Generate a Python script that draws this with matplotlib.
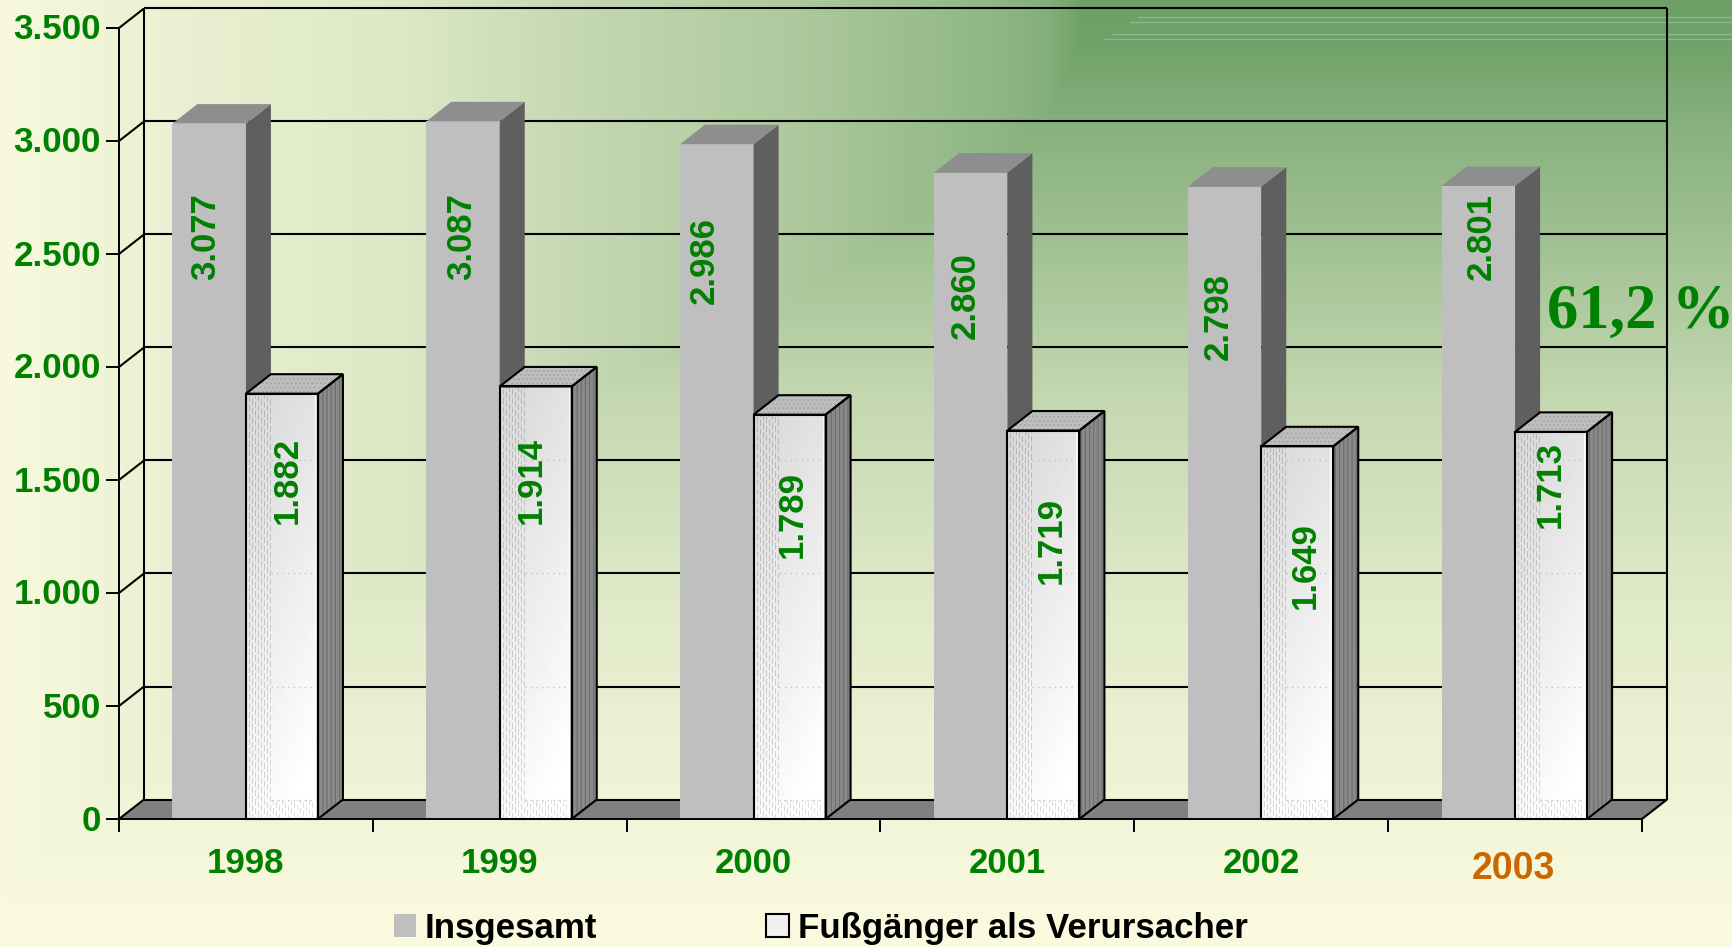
import numpy as np
import matplotlib
matplotlib.use("Agg")
import matplotlib.pyplot as plt
from matplotlib.patches import Polygon, Patch
from matplotlib.transforms import ScaledTranslation

years = ["1998", "1999", "2000", "2001", "2002", "2003"]
insgesamt = [3077, 3087, 2986, 2860, 2798, 2801]
fussgaenger = [1882, 1914, 1789, 1719, 1649, 1713]
y_ticks = [0, 500, 1000, 1500, 2000, 2500, 3000, 3500]
y_tick_labels = ["0", "500", "1.000", "1.500", "2.000", "2.500", "3.000", "3.500"]
value_labels_total = ["3.077", "3.087", "2.986", "2.860", "2.798", "2.801"]
value_labels_foot = ["1.882", "1.914", "1.789", "1.719", "1.649", "1.713"]
series_names = ["Insgesamt", "Fußgänger als Verursacher"]
share_label = "61,2 %"

W, H = 1733, 947
GREEN = "#008000"
ORANGE = "#CC6600"
plt.rcParams["font.family"] = ["Liberation Sans", "DejaVu Sans"]
plt.rcParams["hatch.linewidth"] = 0.8

fig = plt.figure(figsize=(W / 100, H / 100), dpi=100)

# page background: rectangular path gradient from the top right corner
bg = fig.add_axes([0, 0, 1, 1], zorder=0)
bg.set_xlim(0, W); bg.set_ylim(H, 0); bg.axis("off")
xx, yy = np.meshgrid(np.arange(W), np.arange(H))
fx = np.interp(xx, [0, 200, 400, 600, 800, 1000, 1050, 1085], [0.02, .13, .21, .40, .55, .76, .84, 1])
gy = np.interp(yy, [0, 40, 130, 250, 400, 600, 800, 947], [1, .98, .8, .62, .38, .19, .07, 0])
t = np.minimum(fx, gy)[..., None]
c0 = np.array([251, 251, 224]) / 255
c1 = np.array([108, 160, 102]) / 255
bg.imshow(c0 * (1 - t) + c1 * t, extent=(0, W, H, 0), aspect="auto", interpolation="bilinear")
bg.set_xlim(0, W); bg.set_ylim(H, 0)
for ly, lx in zip([17, 22, 34, 39], [1138, 1130, 1113, 1105]):
    bg.plot([lx, W], [ly, ly], color="#FFFFFF", alpha=0.25, lw=1.0)

# chart axes: front plane of the 3D box
ax = fig.add_axes([119 / W, (H - 819) / H, 1523 / W, 791 / H], zorder=1)
ax.patch.set_visible(False)
ax.set_xlim(0, 6); ax.set_ylim(0, 3500)
PX = 6 / 1523              # category units per pixel
PY = 3500 / 791            # value units per pixel
DX, DY = 25 * PX, 19.5 * PY
BW = 73.5 * PX
BW2 = 72.0 * PX

def poly(pts, z, **kw):
    p = Polygon(pts, closed=True, clip_on=False, zorder=z, **kw)
    ax.add_patch(p)
    return p

def line(xs, ys, z=2, lw=1.5, color="black", **kw):
    ax.plot(xs, ys, color=color, lw=lw, clip_on=False, zorder=z, solid_capstyle="butt", **kw)

# floor and walls
poly([(0, 0), (6, 0), (6 + DX, DY), (DX, DY)], 1, facecolor="#808080", edgecolor="none")
for v in y_ticks:
    line([0, DX], [v, v + DY])
    line([DX, 6 + DX], [v + DY, v + DY])
line([DX, DX], [DY, 3500 + DY])
line([6 + DX, 6 + DX], [DY, 3500 + DY])
line([6, 6 + DX], [0, DY])

def white_face(h_px):
    w_px = 72
    h_px = max(int(h_px), 2)
    jj, ii = np.meshgrid(np.arange(h_px), np.arange(w_px), indexing="ij")
    frac = jj / (h_px - 1)
    v = 0.84 + 0.13 * frac + 0.05 * ii / w_px
    mask = (ii < 25) | (jj >= h_px - 19)
    dash = (ii % 3 == 0) & ((jj + ii * 5) % 9 < 6)
    v = np.where(mask & dash, v - 0.13, v)
    return np.clip(v, 0, 1)

z = 3.0
for i, (a, b) in enumerate(zip(insgesamt, fussgaenger)):
    c = i + 0.5
    # total bar
    ax.bar(c - BW / 2, a, BW, color="#BFBFBF", edgecolor="none", zorder=z, clip_on=False)
    poly([(c, 0), (c + DX, DY), (c + DX, a + DY), (c, a)], z, facecolor="#5F5F5F", edgecolor="none")
    poly([(c - BW, a), (c, a), (c + DX, a + DY), (c - BW + DX, a + DY)], z, facecolor="#8E8E8E", edgecolor="none")
    z += 0.1
    # pedestrian bar
    poly([(c + BW2, 0), (c + BW2 + DX, DY), (c + BW2 + DX, b + DY), (c + BW2, b)], z,
         facecolor="#8A8A8A", edgecolor="#6C6C6C", hatch="||||", lw=0)
    poly([(c, b), (c + BW2, b), (c + BW2 + DX, b + DY), (c + DX, b + DY)], z,
         facecolor="#BEBEBE", edgecolor="#A6A6A6", hatch="....", lw=0)
    ax.bar(c + BW2 / 2, b, BW2, color="white", edgecolor="none", zorder=z, clip_on=False)
    ax.imshow(white_face(b / PY), extent=(c, c + BW2, 0, b), cmap="gray", vmin=0, vmax=1,
              aspect="auto", interpolation="nearest", origin="upper", zorder=z + 0.01, clip_on=False)
    for v in y_ticks:
        if v + DY < b:
            ax.plot([c + DX, c + BW2], [v + DY, v + DY], color="#C4C4C4", lw=1, ls=(0, (1, 3)), zorder=z + 0.02)
    line([c + BW2 - 2 * PX] * 2, [0, b], z=z + 0.03, lw=1.2, color="white")
    poly([(c, 0), (c + BW2, 0), (c + BW2, b), (c, b)], z + 0.04, facecolor="none", edgecolor="black", lw=1.5)
    poly([(c, b), (c + BW2, b), (c + BW2 + DX, b + DY), (c + DX, b + DY)], z + 0.04, facecolor="none", edgecolor="black", lw=1.5)
    poly([(c + BW2, 0), (c + BW2 + DX, DY), (c + BW2 + DX, b + DY), (c + BW2, b)], z + 0.04, facecolor="none", edgecolor="black", lw=1.5)
    z += 0.1

ax.set_xlim(0, 6); ax.set_ylim(0, 3500)

# axes, ticks
for s in ("top", "right"):
    ax.spines[s].set_visible(False)
for s in ("left", "bottom"):
    ax.spines[s].set_linewidth(1.4)
    ax.spines[s].set_zorder(50)
ax.set_yticks(y_ticks, y_tick_labels)
ax.tick_params(axis="y", length=9.4, width=1.4, pad=3.6, labelcolor=GREEN, labelsize=25.2)
for l in ax.get_yticklabels():
    l.set_fontweight("bold")
    l.set_transform(l.get_transform() + ScaledTranslation(0, 1.5 / 100, fig.dpi_scale_trans))
ax.set_xticks(range(7), [""] * 7)
ax.tick_params(axis="x", which="major", length=9.4, width=1.4)
ax.set_xticks(np.arange(6) + 0.5, years, minor=True)
ax.tick_params(axis="x", which="minor", length=0, pad=19.8, labelcolor=GREEN, labelsize=25)
for l in ax.get_xticklabels(minor=True):
    l.set_fontweight("bold")
last = ax.get_xticklabels(minor=True)[-1]
last.set_color(ORANGE)
last.set_fontsize(27)
last.set_transform(last.get_transform() + ScaledTranslation(-2.0 / 100, -3.0 / 72, fig.dpi_scale_trans))

# value labels (hand-placed in the original): pixel centres converted to data
tot_px = [(206, 237), (462, 237), (704, 261), (965, 296), (1218, 316), (1481, 236)]
foot_px = [(287, 480), (531, 480), (792, 514), (1051, 540), (1305, 566), (1550, 485)]
for txts, pos in ((value_labels_total, tot_px), (value_labels_foot, foot_px)):
    for s, (px, py) in zip(txts, pos):
        ax.text((px - 119) * PX, (819 - py) * PY, s, rotation=90, ha="center", va="center",
                color=GREEN, fontsize=25, fontweight="bold", zorder=60)

ax.text((1547 - 119) * PX, (819 - 328) * PY, share_label, family=["Liberation Serif"], fontsize=45,
        fontweight="bold", color=GREEN, ha="left", va="baseline", zorder=60, clip_on=False)

handles = [Patch(facecolor="#BFBFBF", edgecolor="none"),
           Patch(facecolor="#F0F0F0", edgecolor="black", lw=1.5)]
fig.legend(handles, series_names, ncol=2, loc="center left", bbox_to_anchor=(394 / W, (H - 928) / H),
           frameon=False, prop={"size": 25.1, "weight": "bold"}, handlelength=0.64, handleheight=0.64,
           handletextpad=0.25, columnspacing=4.85, borderpad=0, borderaxespad=0, labelcolor="black")

fig.savefig("out.png", dpi=100)
